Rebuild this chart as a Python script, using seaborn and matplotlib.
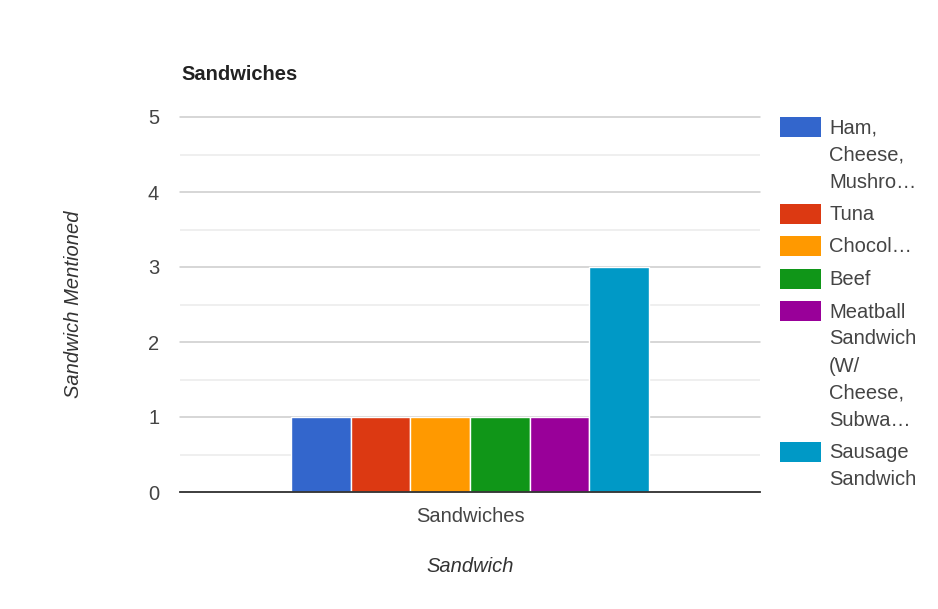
import matplotlib
matplotlib.use("Agg")
import matplotlib.pyplot as plt
from matplotlib.patches import Rectangle
import seaborn as sns
import pandas as pd

categories = ["Sandwiches"]
series = ["Ham,\nCheese,\nMushro…", "Tuna", "Chocol…", "Beef",
          "Meatball\nSandwich\n(W/\nCheese,\nSubwa…", "Sausage\nSandwich"]
values = [1, 1, 1, 1, 1, 3]
colors = ["#3366cc", "#dc3912", "#ff9900", "#109618", "#990099", "#0099c6"]
y_ticks = [0, 1, 2, 3, 4, 5]

df = pd.DataFrame({"category": categories * len(series), "series": series, "count": values})

sns.set_theme(style="white")
plt.rcParams['font.family'] = ['Liberation Sans', 'DejaVu Sans']

W, H = 938, 609
FS = 14.5
fig = plt.figure(figsize=(W / 100, H / 100), dpi=100)
ax = fig.add_axes([180 / W, 1 - 492 / H, 580 / W, 375 / H])

sns.barplot(data=df, x="category", y="count", hue="series", hue_order=series,
            palette=colors, width=0.617, saturation=1, edgecolor="white",
            linewidth=1, ax=ax, legend=False)

ax.set_ylim(0, 5)
ax.set_xlim(-0.5, 0.5)
ax.set_yticks(y_ticks)
ax.set_yticks([0.5, 1.5, 2.5, 3.5, 4.5], minor=True)
ax.grid(axis="y", which="major", color="#cccccc", lw=1.1)
ax.grid(axis="y", which="minor", color="#ebebeb", lw=1.1)
ax.set_axisbelow(True)
for g in ax.get_ygridlines():
    g.set_clip_on(False)
for s in ["top", "right", "left"]:
    ax.spines[s].set_visible(False)
ax.spines["bottom"].set_color("#333333")
ax.spines["bottom"].set_linewidth(1.3)
ax.spines["bottom"].set_zorder(5)
ax.tick_params(axis="both", which="both", length=0, labelsize=FS, colors="#444444")
ax.tick_params(axis="y", pad=15)
ax.tick_params(axis="x", pad=11)

ax.set_xlabel("Sandwich", fontsize=FS, style="italic", color="#333333")
ax.set_ylabel("Sandwich Mentioned", fontsize=FS, style="italic", color="#333333")
ax.xaxis.set_label_coords(0.5, (492 - 557) / 375)
ax.yaxis.set_label_coords((83 - 180) / 580, 0.5)

fig.text(181 / W, 1 - 80 / H, "Sandwiches", fontsize=FS, fontweight="bold",
         color="#222222", ha="left", va="baseline")

# legend, drawn entry by entry
top = 117.0
step = 32.5
line_h = 27.0
for lab, col in zip(series, colors):
    fig.add_artist(Rectangle((780 / W, 1 - (top + 20) / H), 41 / W, 20 / H,
                             transform=fig.transFigure, facecolor=col,
                             edgecolor="none"))
    lines = lab.split("\n")
    for i, ln in enumerate(lines):
        fig.text(829 / W, 1 - (top + 16.5 + i * line_h) / H, ln, fontsize=FS,
                 color="#444444", ha="left", va="baseline")
    top += step + (len(lines) - 1) * line_h

fig.savefig("out.png", dpi=100)
